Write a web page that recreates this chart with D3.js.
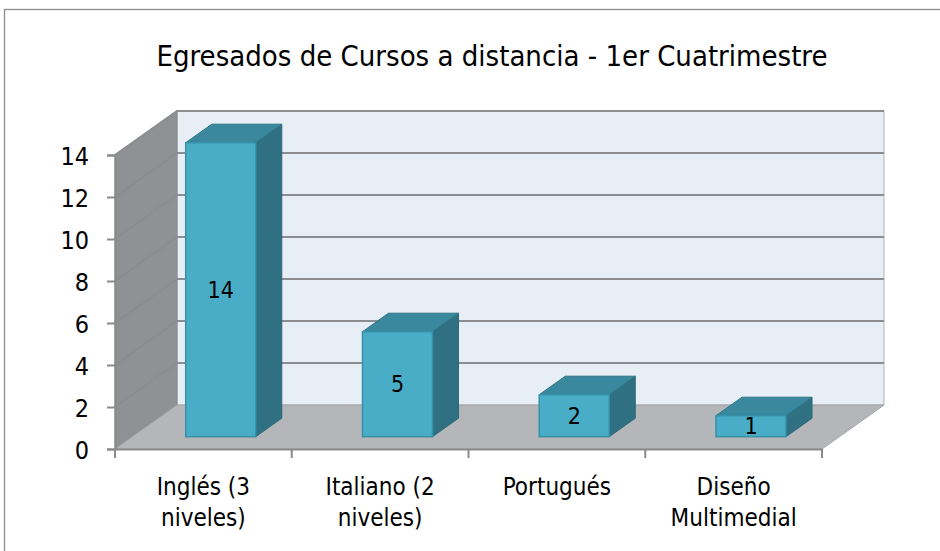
<!DOCTYPE html>
<html>
<head>
<meta charset="utf-8">
<script src="https://cdn.jsdelivr.net/npm/d3@7"></script>
<style>
  body { margin: 0; background: #fff; }
  text { font-family: "DejaVu Sans Condensed", "DejaVu Sans", sans-serif; font-stretch: condensed; fill: #000; }
</style>
</head>
<body>
<svg width="940" height="551"></svg>
<script>
// data
var categories = [["Inglés (3", "niveles)"], ["Italiano (2", "niveles)"], ["Portugués"], ["Diseño", "Multimedial"]];
var values = [14, 5, 2, 1];
var yTicks = [0, 2, 4, 6, 8, 10, 12, 14];
var title = "Egresados de Cursos a distancia - 1er Cuatrimestre";

var svg = d3.select("svg");

// 3d depth offset of the back wall
var depthX = 62, depthY = -44;

var x = d3.scaleBand()
    .domain(d3.range(values.length))
    .range([115, 822])
    .paddingInner(0)
    .paddingOuter(0);

var y = d3.scaleLinear()
    .domain([0, 14])
    .range([449, 155]);

// outer frame
svg.append("rect")
    .attr("x", 4.5).attr("y", 9.5)
    .attr("width", 960).attr("height", 600)
    .attr("fill", "none")
    .attr("stroke", "#8c8c8c")
    .attr("stroke-width", 1.3);

svg.append("text")
    .attr("x", 492).attr("y", 66)
    .attr("text-anchor", "middle")
    .style("font-size", "29px")
    .text(title);

var x0 = x.range()[0], x1 = x.range()[1],
    yb = y(0), yt = y(14);

function pts(a) {
    return a.map(function(p) { return p[0] + "," + p[1]; }).join(" ");
}

// back wall
svg.append("polygon")
    .attr("points", pts([[x0 + depthX, yt + depthY], [x1 + depthX, yt + depthY], [x1 + depthX, yb + depthY], [x0 + depthX, yb + depthY]]))
    .attr("fill", "#e8eef5")
    .attr("stroke", "#b0b3b8");

// side wall
svg.append("polygon")
    .attr("points", pts([[x0, yb], [x0, yt], [x0 + depthX, yt + depthY], [x0 + depthX, yb + depthY]]))
    .attr("fill", "#8f9195")
    .attr("stroke", "#85878b");

// floor
svg.append("polygon")
    .attr("points", pts([[x0, yb], [x1, yb], [x1 + depthX, yb + depthY], [x0 + depthX, yb + depthY]]))
    .attr("fill", "#b4b6b9")
    .attr("stroke", "#a2a4a8");

// gridlines (side wall diagonal + back wall)
yTicks.filter(function(d) { return d > 0; }).forEach(function(t) {
    svg.append("polyline")
        .attr("points", pts([[x0, y(t)], [x0 + depthX, y(t) + depthY], [x1 + depthX, y(t) + depthY]]))
        .attr("fill", "none")
        .attr("stroke", "#8b8d91")
        .attr("stroke-width", 2);
});

// y axis
var yAxis = d3.axisLeft(y)
    .tickValues(yTicks)
    .tickSize(8)
    .tickPadding(18)
    .tickFormat(d3.format("d"));

var gy = svg.append("g")
    .attr("transform", "translate(" + x0 + ",0)")
    .call(yAxis);
gy.select(".domain").attr("stroke", "#8a8a8a").attr("stroke-width", 2);
gy.selectAll(".tick line").attr("stroke", "#8a8a8a").attr("stroke-width", 2);
gy.selectAll(".tick text").style("font-size", "25px").attr("dy", "0.36em");

// x axis
var xAxis = d3.axisBottom(x).tickSize(0).tickFormat("");
var gx = svg.append("g")
    .attr("transform", "translate(0," + yb + ")")
    .call(xAxis);
gx.select(".domain").attr("stroke", "#8a8a8a").attr("stroke-width", 2);
gx.selectAll(".tick").remove();
d3.range(values.length + 1).forEach(function(i) {
    var xx = i < values.length ? x(i) : x1;
    gx.append("line")
        .attr("x1", xx).attr("x2", xx)
        .attr("y1", 0).attr("y2", 9)
        .attr("stroke", "#8a8a8a")
        .attr("stroke-width", 2);
});

// category labels
svg.selectAll(".cat")
    .data(categories)
    .enter().append("text")
    .attr("class", "cat")
    .attr("text-anchor", "middle")
    .style("font-size", "24px")
    .each(function(lines, i) {
        var t = d3.select(this);
        lines.forEach(function(l, j) {
            t.append("tspan")
                .attr("x", x(i) + x.bandwidth() / 2)
                .attr("y", 495 + j * 31)
                .text(l);
        });
    });

// bars
var barW = 70;
var frontF = 0.28, backF = 0.70;
var dFx = depthX * frontF, dFy = depthY * frontF;
var ddx = depthX * (backF - frontF), ddy = depthY * (backF - frontF);

var bars = svg.selectAll(".bar")
    .data(values)
    .enter().append("g")
    .attr("class", "bar");

bars.each(function(v, i) {
    var g = d3.select(this);
    var cx = x(i) + x.bandwidth() / 2 + dFx;
    var bl = cx - barW / 2, br = cx + barW / 2;
    var bb = y(0) + dFy, bt = y(v) + dFy;
    // side
    g.append("polygon")
        .attr("points", pts([[br, bb], [br, bt], [br + ddx, bt + ddy], [br + ddx, bb + ddy]]))
        .attr("fill", "#2f7182")
        .attr("stroke", "#2b6a7a");
    // top
    g.append("polygon")
        .attr("points", pts([[bl, bt], [br, bt], [br + ddx, bt + ddy], [bl + ddx, bt + ddy]]))
        .attr("fill", "#3a889d")
        .attr("stroke", "#2f7586");
    // front
    g.append("rect")
        .attr("x", bl).attr("y", bt)
        .attr("width", barW).attr("height", bb - bt)
        .attr("fill", "#4aadc7")
        .attr("stroke", "#3592a8")
        .attr("stroke-width", 1.5);
    g.append("text")
        .attr("x", cx)
        .attr("y", (bt + bb) / 2)
        .attr("dy", "0.36em")
        .attr("text-anchor", "middle")
        .style("font-size", "23px")
        .text(v);
});
</script>
</body>
</html>
